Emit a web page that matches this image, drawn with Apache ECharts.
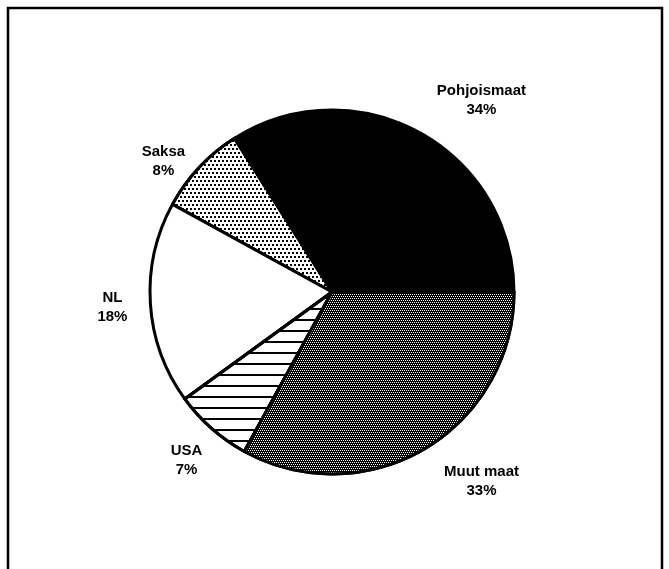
<!DOCTYPE html>
<html>
<head>
<meta charset="utf-8">
<script src="https://cdn.jsdelivr.net/npm/echarts@6/dist/echarts.min.js"></script>
<style>
  html, body { margin: 0; padding: 0; background: #fff; }
  #chart { width: 669px; height: 569px; }
</style>
</head>
<body>
<div id="chart"></div>
<script>
// maat ja osuudet (%)
var countries = ["Pohjoismaat", "Saksa", "NL", "USA", "Muut maat"];
var shares = [34, 8, 18, 7, 33];

// label nudges so the text sits where the original has it
var labelOffsets = [[42, 4], [-6, 22], [3, 1], [2, 1], [36, -3]];

var fills = [
  { color: "#000" },
  { color: "#fff", decal: { symbol: "rect", symbolSize: 1, color: "#000",
      dashArrayX: [[2, 2], [0, 2, 2, 0]], dashArrayY: [2, 2], rotation: 0 } },
  { color: "#fff" },
  { color: "#fff", decal: { symbol: "rect", symbolSize: 1, color: "#000",
      dashArrayX: [[10, 0]], dashArrayY: [2, 9], rotation: 0 } },
  { color: "#000", decal: { symbol: "rect", symbolSize: 1, color: "#fff",
      dashArrayX: [[1, 1], [0, 1, 1, 0]], dashArrayY: [1, 1], rotation: 0 } }
];

var chart = echarts.init(document.getElementById("chart"), null, { renderer: "canvas" });

var sliceData = [];
var labelData = [];
for (var i = 0; i < countries.length; i++) {
  sliceData.push({
    name: countries[i],
    value: shares[i],
    itemStyle: {
      color: fills[i].color,
      decal: fills[i].decal || null,
      borderColor: "#000",
      borderWidth: 3
    }
  });
  labelData.push({
    name: countries[i],
    value: shares[i],
    label: { offset: labelOffsets[i] }
  });
}

chart.setOption({
  backgroundColor: "#fff",
  animation: false,
  graphic: [{
    type: "rect",
    shape: { x: 8, y: 8, width: 654, height: 600 },
    style: { fill: "none", stroke: "#000", lineWidth: 2.5 }
  }],
  series: [
    {
      type: "pie",
      center: [332, 292],
      radius: 182,
      startAngle: 0,
      clockwise: false,
      label: { show: false },
      labelLine: { show: false },
      emphasis: { disabled: true },
      data: sliceData
    },
    {
      // näkymätön rengas vain tekstejä varten
      type: "pie",
      center: [332, 292],
      radius: [195, 245],
      startAngle: 0,
      clockwise: false,
      silent: true,
      itemStyle: { color: "rgba(0,0,0,0)", borderWidth: 0 },
      label: {
        show: true,
        position: "inside",
        formatter: "{b}\n{c}%",
        color: "#000",
        fontFamily: "Liberation Sans, Arial, sans-serif",
        fontWeight: "bold",
        fontSize: 15,
        lineHeight: 19,
        align: "center"
      },
      labelLine: { show: false },
      emphasis: { disabled: true },
      data: labelData
    }
  ]
});
</script>
</body>
</html>
